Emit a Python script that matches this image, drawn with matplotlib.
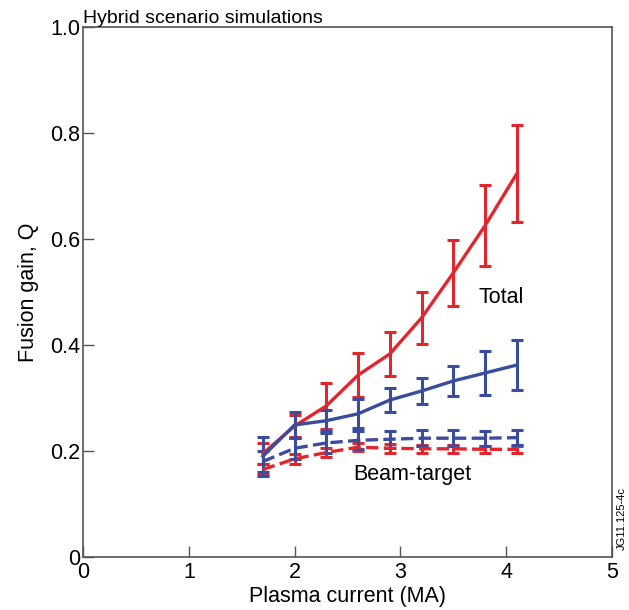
import matplotlib.pyplot as plt

plt.rcParams['font.family'] = ['Liberation Sans', 'DejaVu Sans']

# Plasma current (MA)
current = [1.7, 2.0, 2.3, 2.6, 2.9, 3.2, 3.5, 3.8, 4.1]

# Total Q, red and blue series
red_total = [0.195, 0.247, 0.285, 0.343, 0.383, 0.451, 0.536, 0.625, 0.723]
red_total_err = [0.02, 0.02, 0.044, 0.041, 0.042, 0.049, 0.062, 0.076, 0.091]
blue_total = [0.19, 0.249, 0.257, 0.27, 0.296, 0.313, 0.332, 0.347, 0.362]
blue_total_err = [0.037, 0.025, 0.02, 0.027, 0.022, 0.025, 0.029, 0.042, 0.048]

# Beam-target Q
red_bt = [0.165, 0.185, 0.197, 0.207, 0.205, 0.204, 0.204, 0.203, 0.203]
red_bt_err = [0.01, 0.01, 0.008, 0.008, 0.008, 0.007, 0.007, 0.007, 0.007]
blue_bt = [0.18, 0.205, 0.215, 0.22, 0.222, 0.224, 0.224, 0.224, 0.225]
blue_bt_err = [0.02, 0.02, 0.018, 0.017, 0.016, 0.015, 0.015, 0.014, 0.014]

RED = '#e3262d'
BLUE = '#3a4c9e'

fig = plt.figure(figsize=(6.29, 6.10), dpi=100)
ax = fig.add_axes([0.132, 0.087, 0.841, 0.869])

kw = dict(capsize=4.5, elinewidth=2.2, capthick=2.2, linewidth=2.4)
ax.errorbar(current, red_bt, yerr=red_bt_err, color=RED, linestyle='--', **kw)
ax.errorbar(current, blue_bt, yerr=blue_bt_err, color=BLUE, linestyle='--', **kw)
ax.errorbar(current, red_total, yerr=red_total_err, color=RED, **kw)
ax.errorbar(current, blue_total, yerr=blue_total_err, color=BLUE, **kw)

ax.set_xlim(0, 5)
ax.set_ylim(0, 1.0)
ax.set_xticks([0, 1, 2, 3, 4, 5])
ax.set_yticks([0, 0.2, 0.4, 0.6, 0.8, 1.0])
ax.set_yticklabels(['0', '0.2', '0.4', '0.6', '0.8', '1.0'])
ax.tick_params(direction='in', length=8, width=1, labelsize=15.5, color='#555555')
ax.tick_params(axis='x', pad=4)
ax.tick_params(axis='y', pad=2)
for s in ax.spines.values():
    s.set_color('#555555')
    s.set_linewidth(1.2)

ax.set_xlabel('Plasma current (MA)', fontsize=15.5, labelpad=2)
ax.set_ylabel('Fusion gain, Q', fontsize=15.5, labelpad=8)

ax.text(0.0, 1.0, 'Hybrid scenario simulations', transform=ax.transAxes,
        fontsize=14, ha='left', va='bottom')
ax.text(3.74, 0.49, 'Total', fontsize=15.5, ha='left', va='center')
ax.text(2.55, 0.155, 'Beam-target', fontsize=15.5, ha='left', va='center')
fig.text(0.989, 0.098, 'JG11.125-4c', rotation=90, fontsize=8, ha='center', va='bottom')

fig.savefig('out.png', dpi=100)
